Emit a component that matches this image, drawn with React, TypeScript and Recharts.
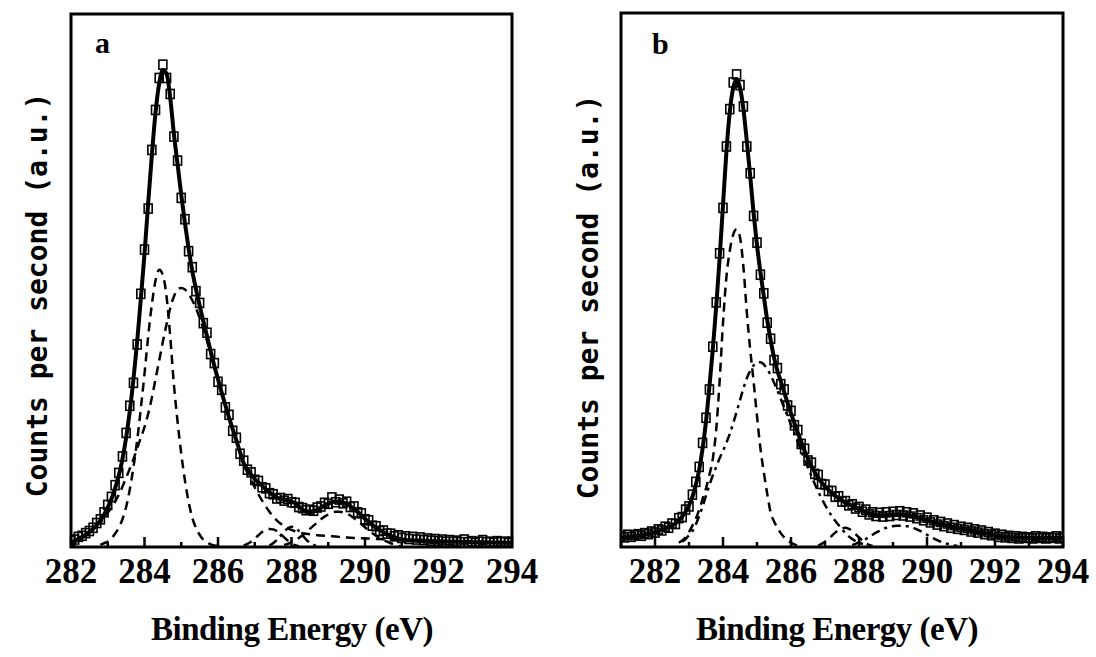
import React from "react";
import {
  ComposedChart,
  Line,
  Scatter,
  XAxis,
  YAxis,
  ReferenceArea,
} from "recharts";

// ---- panel a : binding energy grid 282.0 .. 294.0, step 0.1 eV ----
const A_START = 282.0;
const A_MEAS = [
  1.2, 1.4, 1.9, 2.1, 2.6, 3.0, 3.6, 4.5, 5.2, 6.5,
  7.9, 9.4, 11.6, 13.9, 17.0, 21.4, 26.5, 30.8, 38.0, 47.5,
  55.8, 63.5, 74.5, 82.0, 88.0, 90.5, 88.0, 85.0, 77.0, 72.5,
  65.5, 61.5, 55.5, 52.5, 48.0, 45.8, 42.0, 40.2, 36.2, 34.5,
  31.0, 29.5, 26.2, 24.8, 21.8, 20.5, 17.5, 16.2, 14.5, 14.0,
  12.6, 12.4, 11.2, 11.0, 10.1, 9.9, 9.1, 9.2, 8.7, 9.0,
  8.4, 8.3, 7.5, 7.3, 6.9, 7.0, 6.8, 7.4, 7.6, 8.3,
  8.1, 9.3, 8.4, 8.9, 8.2, 8.5, 7.5, 7.6, 6.5, 6.3,
  5.2, 5.0, 4.0, 3.9, 3.0, 3.1, 2.5, 2.5, 2.0, 2.2,
  1.7, 2.0, 1.5, 1.9, 1.4, 1.8, 1.3, 1.6, 1.2, 1.5,
  1.1, 1.4, 1.0, 1.3, 1.0, 1.2, 0.9, 1.4, 0.9, 1.1,
  0.8, 1.0, 1.3, 0.9, 1.0, 0.8, 1.1, 0.9, 1.0, 0.8,
  1.0,
];
const A_FIT = [
  0.8, 1.1, 1.5, 1.9, 2.3, 2.8, 3.4, 4.1, 5.0, 6.1,
  7.4, 9.0, 11.0, 13.4, 16.5, 20.5, 25.5, 31.5, 38.5, 46.5,
  55.0, 64.5, 73.5, 81.5, 87.0, 89.5, 88.8, 84.3, 77.5, 71.8,
  66.1, 60.8, 56.0, 51.8, 48.4, 45.3, 42.4, 39.6, 36.7, 34.0,
  31.5, 29.0, 26.6, 24.3, 22.1, 20.0, 17.8, 15.7, 14.6, 13.6,
  12.8, 12.1, 11.5, 10.8, 10.3, 9.7, 9.3, 9.0, 8.9, 8.7,
  8.5, 8.2, 7.6, 7.0, 6.7, 6.6, 6.7, 7.0, 7.35, 7.8,
  8.15, 8.4, 8.55, 8.5, 8.35, 8.1, 7.65, 7.1, 6.6, 5.95,
  5.3, 4.7, 4.15, 3.6, 3.2, 2.75, 2.4, 2.1, 1.85, 1.55,
  1.4, 1.3, 1.25, 1.25, 1.2, 1.2, 1.15, 1.15, 1.1, 1.1,
  1.1, 1.05, 1.05, 1.0, 1.0, 1.0, 0.95, 0.95, 0.95, 0.9,
  0.9, 0.9, 0.9, 0.85, 0.85, 0.85, 0.85, 0.8, 0.8, 0.8,
  0.8,
];
// fitted components of panel a
const A_C1_START = 282.8;
const A_C1 = [
  0.4, 0.7, 1.0, 1.6, 2.5, 3.6, 5.2, 7.5, 10.8, 15.0, 20.0, 26.0, 32.5,
  39.5, 45.5, 50.0, 52.0, 51.0, 47.0, 39.5, 30.5, 23.5, 17.5, 12.5, 8.5,
  5.5, 3.6, 2.3, 1.4, 0.9, 0.5, 0.3, 0.2,
];
const A_C2_START = 282.0;
const A_C2 = [
  0.8, 1.1, 1.5, 1.9, 2.3, 2.8, 3.4, 4.1, 4.6, 5.4,
  6.4, 7.4, 8.5, 9.8, 11.3, 13.0, 14.7, 16.5, 18.5, 20.5,
  22.5, 25.0, 28.0, 31.5, 35.0, 38.5, 41.8, 44.8, 47.0, 48.3,
  48.6, 48.3, 47.5, 46.3, 44.8, 43.0, 41.0, 38.7, 36.2, 33.7,
  31.3, 29.0, 26.6, 24.3, 22.1, 20.0, 17.8, 15.4, 14.0, 12.6,
  11.2, 9.9, 8.7, 7.6, 6.6, 5.7, 5.0, 4.4, 3.9, 3.5,
  3.2, 2.95, 2.75, 2.6, 2.5, 2.4, 2.3, 2.2, 2.15, 2.1,
  2.05, 2.0, 1.95, 1.9, 1.85, 1.8, 1.75, 1.7, 1.7, 1.65,
  1.6, 1.6, 1.55, 1.5, 1.5, 1.45, 1.4, 1.4, 1.35, 1.35,
  1.3, 1.3, 1.25, 1.25, 1.2, 1.2, 1.15, 1.15, 1.1, 1.1,
  1.1, 1.05, 1.05, 1.0, 1.0, 1.0, 0.95, 0.95, 0.95, 0.9,
  0.9, 0.9, 0.9, 0.85, 0.85, 0.85, 0.85, 0.8, 0.8, 0.8,
  0.8,
];
const A_C3_START = 286.7;
const A_C3 = [0.3, 0.6, 1.0, 1.6, 2.2, 2.8, 3.2, 3.4, 3.3, 3.0, 2.4, 1.8, 1.2, 0.7, 0.35, 0.15];
const A_C4_START = 287.4;
const A_C4 = [0.3, 0.7, 1.3, 2.1, 2.9, 3.5, 3.8, 3.6, 3.0, 2.2, 1.4, 0.8, 0.4, 0.2];
const A_C5_START = 287.8;
const A_C5 = [
  0.4, 0.6, 0.9, 1.3, 1.7, 2.2, 2.8, 3.4, 4.0, 4.6, 5.2, 5.7, 6.1, 6.4,
  6.6, 6.6, 6.5, 6.3, 5.9, 5.4, 4.9, 4.3, 3.7, 3.1, 2.6, 2.1, 1.7, 1.3,
  1.0, 0.7, 0.5, 0.2, 0.1,
];

// ---- panel b : binding energy grid 281.0 .. 294.0, step 0.1 eV ----
const B_START = 281.0;
const B_MEAS = [
  2.0, 1.8, 2.3, 1.9, 2.2, 2.4, 2.1, 2.6, 2.4, 2.9,
  2.7, 3.3, 3.1, 3.8, 3.6, 4.4, 4.3, 5.4, 5.6, 7.0,
  7.6, 9.8, 12.2, 15.0, 19.5, 24.2, 29.5, 37.5, 45.8, 55.0,
  63.5, 75.0, 82.0, 87.0, 88.5, 86.5, 82.5, 75.0, 70.0, 62.0,
  57.0, 51.0, 47.5, 42.0, 39.0, 35.0, 33.5, 30.5, 29.5, 26.5,
  25.5, 22.8, 21.9, 19.3, 18.4, 16.2, 15.8, 13.7, 13.5, 11.8,
  11.7, 10.5, 10.5, 9.4, 9.5, 8.5, 8.6, 7.8, 8.0, 7.2,
  7.5, 6.6, 7.0, 6.1, 6.5, 5.8, 6.4, 5.7, 6.5, 5.8,
  6.6, 6.0, 6.7, 5.9, 6.5, 5.7, 6.3, 5.4, 5.9, 5.0,
  5.5, 4.6, 5.0, 4.2, 4.7, 3.9, 4.4, 3.6, 4.1, 3.4,
  3.8, 3.2, 3.6, 2.9, 3.3, 2.7, 3.1, 2.4, 2.8, 2.2,
  2.5, 1.9, 2.3, 1.8, 2.1, 1.7, 2.0, 1.6, 1.9, 1.7,
  1.8, 1.6, 2.0, 1.7, 1.9, 1.6, 1.8, 1.7, 2.0, 1.6,
  1.8,
];
const B_FIT = [
  1.8, 1.8, 1.9, 1.9, 2.0, 2.1, 2.2, 2.3, 2.5, 2.6,
  2.8, 3.0, 3.2, 3.4, 3.7, 4.0, 4.4, 5.0, 5.7, 6.6,
  7.8, 9.4, 11.6, 14.5, 18.5, 23.5, 30.0, 37.0, 45.0, 54.0,
  64.0, 74.0, 81.5, 86.0, 87.5, 86.0, 82.0, 76.0, 69.5, 62.5,
  56.5, 51.5, 47.0, 42.5, 38.8, 35.5, 33.0, 31.0, 29.0, 27.0,
  25.0, 23.2, 21.4, 19.7, 18.0, 16.5, 15.2, 14.0, 13.0, 12.1,
  11.3, 10.7, 10.1, 9.6, 9.1, 8.7, 8.3, 8.0, 7.7, 7.4,
  7.1, 6.8, 6.5, 6.3, 6.1, 6.0, 5.9, 5.9, 5.9, 6.0,
  6.0, 6.1, 6.1, 6.1, 6.0, 5.9, 5.8, 5.6, 5.4, 5.2,
  5.0, 4.8, 4.6, 4.4, 4.3, 4.1, 4.0, 3.8, 3.7, 3.6,
  3.5, 3.4, 3.3, 3.1, 3.0, 2.9, 2.8, 2.6, 2.5, 2.4,
  2.2, 2.1, 2.0, 1.9, 1.9, 1.8, 1.8, 1.8, 1.7, 1.7,
  1.7, 1.7, 1.7, 1.7, 1.7, 1.7, 1.7, 1.7, 1.7, 1.7,
  1.7,
];
const B_C1_START = 282.7;
const B_C1 = [
  0.8, 1.2, 1.8, 2.8, 4.0, 5.3, 7.0, 9.0, 11.0, 13.5, 16.5, 22.0, 31.0,
  42.0, 50.5, 55.5, 58.5, 59.5, 58.0, 52.5, 44.0, 37.0, 31.0, 24.5, 18.5,
  14.0, 10.0, 6.5, 4.8, 3.6, 2.6, 1.8, 1.2, 0.8, 0.5, 0.3,
];
const B_C2_START = 282.8;
const B_C2 = [
  1.0, 1.5, 2.2, 3.0, 4.2, 5.8, 7.6, 9.6, 11.6, 13.4, 15.0, 16.6,
  18.0, 19.5, 21.2, 23.2, 25.3, 27.5, 29.7, 31.6, 33.0, 34.0,
  34.5, 34.6, 34.2, 33.3, 32.2, 30.8, 29.3, 27.7, 26.1, 24.5,
  22.9, 21.3, 19.7, 18.0, 16.4, 14.9, 13.3, 11.8, 10.4, 9.1,
  7.9, 6.8, 5.8, 4.9, 4.1, 3.3, 2.6, 2.0, 1.5, 1.1, 0.8, 0.6, 0.4,
];
const B_C3_START = 286.8;
const B_C3 = [0.3, 0.6, 1.0, 1.5, 2.1, 2.7, 3.2, 3.5, 3.6, 3.4, 3.0, 2.4, 1.8, 1.2, 0.7, 0.4, 0.2];
const B_C4_START = 287.8;
const B_C4 = [
  0.4, 0.6, 0.9, 1.2, 1.5, 1.9, 2.3, 2.7, 3.0, 3.3, 3.6, 3.8, 3.9, 4.0,
  4.0, 4.0, 3.9, 3.8, 3.6, 3.3, 3.0, 2.7, 2.3, 1.9, 1.6, 1.3, 1.0, 0.8,
  0.6, 0.4, 0.3, 0.2,
];

const A_TICKS = [282, 283, 284, 285, 286, 287, 288, 289, 290, 291, 292, 293, 294];
const B_TICKS = [281, 282, 283, 284, 285, 286, 287, 288, 289, 290, 291, 292, 293, 294];

const series = (start: number, vals: number[]) =>
  vals.map((v, i) => ({ e: Math.round((start + i * 0.1) * 10) / 10, v }));

const SERIF = "'Liberation Serif', 'Times New Roman', serif";
const MONO = "'DejaVu Sans Mono', 'Liberation Mono', monospace";

const EnergyTick = (props: any) => {
  const { x, y, payload } = props;
  const major = payload.value % 2 === 0;
  return (
    <g>
      <line
        x1={x}
        y1={y}
        x2={x}
        y2={y - (major ? 10 : 5)}
        stroke="#000"
        strokeWidth={2.5}
      />
      {major && (
        <text
          x={x}
          y={y + 36}
          textAnchor="middle"
          style={{ fontFamily: SERIF, fontWeight: 700, fontSize: 35 }}
          fill="#000"
        >
          {payload.value}
        </text>
      )}
    </g>
  );
};

const Square = (props: any) => (
  <rect
    x={props.cx - 4}
    y={props.cy - 4.5}
    width={8}
    height={9}
    fill="none"
    stroke="#000"
    strokeWidth={1.6}
  />
);

type Comp = { start: number; vals: number[]; dash: string };

type PanelProps = {
  left: number;
  width: number;
  margin: { top: number; right: number; bottom: number; left: number };
  domain: [number, number];
  ticks: number[];
  start: number;
  meas: number[];
  fit: number[];
  comps: Comp[];
};

function Panel({ left, width, margin, domain, ticks, start, meas, fit, comps }: PanelProps) {
  return (
    <div style={{ position: "absolute", left, top: 0 }}>
      <ComposedChart width={width} height={657} margin={margin}>
        <XAxis
          dataKey="e"
          type="number"
          domain={domain}
          ticks={ticks}
          interval={0}
          allowDataOverflow
          tickSize={0}
          tickMargin={0}
          axisLine={false}
          height={40}
          tick={(p: any) => <EnergyTick {...p} />}
        />
        <YAxis type="number" domain={[0, 100]} hide allowDataOverflow />
        {comps.map((c, i) => (
          <Line
            key={i}
            data={series(c.start, c.vals)}
            dataKey="v"
            type="monotone"
            stroke="#000"
            strokeWidth={2.5}
            strokeDasharray={c.dash}
            dot={false}
            activeDot={false}
            isAnimationActive={false}
          />
        ))}
        <Scatter
          data={series(start, meas)}
          dataKey="v"
          shape={Square}
          isAnimationActive={false}
        />
        <Line
          data={series(start, fit)}
          dataKey="v"
          type="monotone"
          stroke="#000"
          strokeWidth={4}
          dot={false}
          activeDot={false}
          isAnimationActive={false}
        />
        <ReferenceArea
          x1={domain[0]}
          x2={domain[1]}
          y1={0}
          y2={100}
          fill="none"
          stroke="#000"
          strokeWidth={3}
        />
      </ComposedChart>
    </div>
  );
}

export default function App() {
  const dash = "9 6";
  const dashDot = "9 5 3 5";
  const yTitle = { fontFamily: MONO, fontWeight: 700, fontSize: 28 };
  const xTitle = { fontFamily: SERIF, fontWeight: 700, fontSize: 33, letterSpacing: -0.5 };
  return (
    <div
      style={{
        position: "absolute",
        left: 0,
        top: 0,
        width: 1096,
        height: 657,
        background: "#fff",
      }}
    >
      <Panel
        left={0}
        width={545}
        margin={{ top: 14, right: 33, bottom: 70, left: 71 }}
        domain={[282, 294]}
        ticks={A_TICKS}
        start={A_START}
        meas={A_MEAS}
        fit={A_FIT}
        comps={[
          { start: A_C1_START, vals: A_C1, dash },
          { start: A_C2_START, vals: A_C2, dash },
          { start: A_C3_START, vals: A_C3, dash },
          { start: A_C4_START, vals: A_C4, dash: dashDot },
          { start: A_C5_START, vals: A_C5, dash },
        ]}
      />
      <Panel
        left={560}
        width={536}
        margin={{ top: 13, right: 33, bottom: 70, left: 61 }}
        domain={[281, 294]}
        ticks={B_TICKS}
        start={B_START}
        meas={B_MEAS}
        fit={B_FIT}
        comps={[
          { start: B_C1_START, vals: B_C1, dash },
          { start: B_C2_START, vals: B_C2, dash: dashDot },
          { start: B_C3_START, vals: B_C3, dash },
          { start: B_C4_START, vals: B_C4, dash: dashDot },
        ]}
      />
      {/* titles and panel letters */}
      <svg
        width={1096}
        height={657}
        style={{ position: "absolute", left: 0, top: 0, pointerEvents: "none" }}
      >
        <text x={95} y={53} style={{ fontFamily: SERIF, fontWeight: 700, fontSize: 30 }}>
          a
        </text>
        <text x={652} y={54} style={{ fontFamily: SERIF, fontWeight: 700, fontSize: 30 }}>
          b
        </text>
        <text x={47} y={295} transform="rotate(-90 47 295)" textAnchor="middle" style={yTitle}>
          Counts per second (a.u.)
        </text>
        <text x={598} y={297} transform="rotate(-90 598 297)" textAnchor="middle" style={yTitle}>
          Counts per second (a.u.)
        </text>
        <text x={292} y={640} textAnchor="middle" style={xTitle}>
          Binding Energy (eV)
        </text>
        <text x={837} y={640} textAnchor="middle" style={xTitle}>
          Binding Energy (eV)
        </text>
      </svg>
    </div>
  );
}
